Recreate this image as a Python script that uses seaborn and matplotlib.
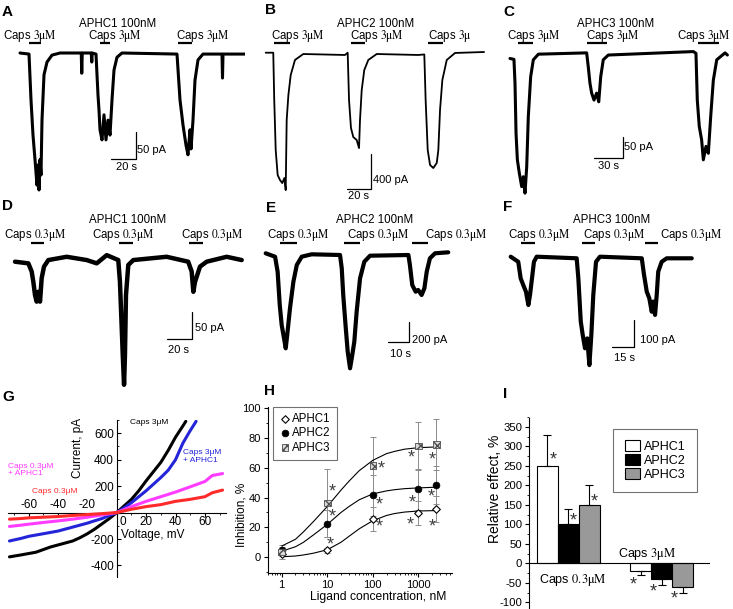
import matplotlib
matplotlib.use("Agg")
import matplotlib.pyplot as plt
import matplotlib.ticker as mticker
import seaborn as sns
import pandas as pd

# ---- current traces, time (s) / current (pA) ----
A_t = [0, 7.2, 8.8, 10.4, 12, 13.6, 14.4, 15.2, 16, 16.8, 17.6, 19.2, 21.6, 25.6, 32, 49, 49.4, 49.8,
       57, 57.4, 57.8, 60.8, 62.4, 63.2, 64, 65.6, 67.2, 68.8, 70.4, 72, 73.6, 75.2, 77.6, 81.6,
       125.6, 128, 130.4, 132.8, 134.4, 136, 136.8, 138.4, 140, 142.4, 146.4, 161.6, 162, 162.4, 180]
A_I = [0, -2, -88, -154, -200, -248, -210, -257, -200, -229, -126, -41, -17, -4, 0, 0, -38, 0,
       0, -17, 0, -2, -79, -107, -144, -163, -116, -163, -126, -154, -88, -32, -8, 0,
       -2, -88, -135, -173, -191, -144, -180, -126, -51, -13, -2, -2, -47, -2, -2]

B_t = [0, 6.2, 7.0, 8.2, 9.8, 11.7, 13.6, 15.3, 16.4, 17.2, 18.6, 20.5, 24, 30.8,
       65, 67.2, 68.3, 69.9, 71.8, 74.6, 76.5, 77.3, 78.7, 80.8, 84.1, 91,
       125, 130, 131.1, 132.8, 134.7, 137.4, 140.2, 141.5, 142.9, 144.8, 148.4, 155.2, 179]
B_I = [0, 0, -541, -1112, -1398, -1455, -1490, -1432, -1570, -769, -483, -255, -83, -15,
       -26, 0, -541, -861, -964, -998, -1090, -769, -426, -198, -83, -15,
       -26, -20, -541, -1112, -1283, -1318, -1260, -1112, -654, -312, -83, -3, 8]

C_t = [0, 4.2, 5.3, 6.4, 7.8, 9.9, 12.4, 14.1, 15.9, 17.7, 19.4, 21.9, 24.7, 30.1,
       81.2, 82.9, 84.7, 86.5, 89, 91.8, 94, 96.1, 98.8, 104.1,
       194.2, 197, 198.4, 200.5, 203, 204.8, 207.6, 210.1, 212.6, 215.4, 219, 227.8, 230.3]
C_I = [-12, -14, -69, -185, -246, -277, -308, -285, -323, -262, -146, -54, -15, -2,
       1, -31, -69, -92, -108, -92, -112, -54, -15, -4,
       4, 0, -108, -169, -200, -246, -215, -231, -146, -62, -15, 1, -4]

D_t = [0, 10.4, 13, 14.3, 15.6, 16.9, 18.2, 19.5, 20.8, 22.6, 26, 40.3, 55.9, 63.7, 71.5, 80.5,
       81.8, 83.2, 84, 85, 85.7, 86.5, 88.3, 92.2,
       118.2, 135, 137.7, 139, 140.3, 142.1, 144.2, 149.4, 165, 176.7]
D_I = [0, -3, -18, -37, -61, -73, -55, -73, -30, -9, 3, 9, 3, -3, 12, 3,
       -37, -122, -171, -225, -171, -61, -6, 3,
       9, 0, -18, -55, -37, -24, -9, 0, 9, 3]

E_t = [0, 4.4, 5.6, 6.6, 7.5, 8.6, 9.4, 10.1, 11.4, 13, 14.6, 16.9, 21.6,
       34.9, 35.7, 36.4, 37.6, 38.5, 39.6, 40.4, 41.6, 42.7, 44.3, 46.3, 49,
       67, 67.7, 68.8, 70.4, 71.6, 73.2, 74.5, 75.6, 77.1, 79.5, 85.7]
E_I = [17, -17, -167, -500, -700, -833, -933, -800, -533, -267, -100, -17, 7,
       0, -133, -400, -733, -967, -1133, -1033, -867, -567, -233, -67, -7,
       0, -100, -300, -367, -350, -400, -333, -167, -33, 17, 27]

F_t = [0, 5, 6.6, 8.3, 10.1, 11.7, 12.8, 14.1, 15.4, 17.2,
       43.7, 44.8, 46.4, 47.7, 49.2, 50.7, 52.1, 53.4, 54.7, 56.5, 59.1,
       86.8, 88.3, 90.1, 91.8, 93.4, 94.4, 95.6, 96.7, 97.7, 100, 103.3, 119.9]
F_I = [6, -13, -75, -100, -125, -175, -137, -75, -13, 6,
       0, -75, -237, -287, -337, -300, -400, -287, -137, -13, 6,
       0, -62, -125, -150, -200, -162, -212, -137, -50, -13, 0, 0]

# capsaicin application periods (s)
A_caps = [(7.2, 16.8), (64, 72), (126.4, 137.6)]
B_caps = [(6.8, 19.9), (69.9, 81.4), (133, 145.3)]
C_caps = [(8.2, 24.7), (81.2, 103), (198.7, 221.7)]
D_caps = [(12.2, 22.6), (81.3, 91.7), (135.9, 146.8)]
E_caps = [(6.7, 14.6), (36.9, 44.3), (68.5, 76.1)]
F_caps = [(6.6, 16.1), (47, 55.8), (88.9, 97.7)]

# ---- G: I-V curves (mV, pA) ----
G_v_black = [-73, -65, -60, -55, -50, -45, -40, -35, -30, -25, -20, -15, -10, -5, 0, 5, 10, 15, 20, 25, 30, 35, 40, 45, 47]
G_i_black = [-335, -320, -310, -300, -280, -260, -245, -230, -215, -190, -160, -125, -85, -45, 0, 50, 100, 165, 240, 310, 380, 470, 570, 655, 690]
G_v_blue = [-73, -65, -60, -55, -50, -45, -40, -35, -30, -25, -20, -15, -10, -5, 0, 5, 10, 15, 20, 25, 30, 35, 40, 45, 50, 54]
G_i_blue = [-215, -195, -180, -170, -160, -150, -140, -125, -110, -95, -80, -62, -45, -22, 0, 35, 75, 120, 165, 215, 265, 320, 400, 525, 620, 690]
G_v_mag = [-73, -65, -60, -50, -40, -30, -20, -10, 0, 10, 20, 30, 40, 50, 60, 65, 72]
G_i_mag = [-105, -95, -88, -75, -63, -50, -35, -18, 0, 45, 85, 120, 155, 195, 235, 280, 295]
G_v_red = [-73, -65, -60, -50, -40, -30, -20, -10, 0, 10, 20, 30, 40, 50, 60, 65, 72]
G_i_red = [-50, -45, -40, -35, -30, -22, -15, -8, 0, 25, 45, 60, 85, 100, 120, 150, 170]

# ---- H: dose response ----
H_conc = [1, 10, 100, 1000, 2500]
H_aphc1 = [2.3, 4.5, 25.4, 29.5, 32.3]
H_aphc1_err = [1.5, 1.5, 8, 8, 9]
H_aphc2 = [4.7, 22.5, 41.5, 45.5, 48.5]
H_aphc2_err = [2, 9, 14, 14, 13]
H_aphc3 = [3.5, 36.3, 61.5, 74.5, 75.5]
H_aphc3_err = [4.5, 23, 19.5, 16, 17]
H_fit_conc = [1, 2, 3, 5, 10, 20, 30, 50, 100, 200, 300, 500, 1000, 2500]
H_fit1 = [0.3, 0.8, 1.5, 2.7, 5, 10, 14, 19, 24.5, 28, 29.3, 30.3, 31, 31.3]
H_fit2 = [4, 7, 10, 15, 22, 30, 34, 38.5, 42.5, 44.5, 45.3, 46, 46.5, 47]
H_fit3 = [7.5, 12, 17, 24, 34, 45, 51, 58, 65, 69.5, 71, 72.5, 73.5, 74]
H_star1 = ([11.5, 140, 660, 1980], [10.8, 23.2, 24.7, 23.2])
H_star2 = ([13.2, 140, 720, 1910], [29.9, 37.7, 39.3, 43.4])
H_star3 = ([13.2, 150, 700, 1980], [46.7, 61.7, 69.2, 68])

# ---- I: relative effect ----
I_stim = ["Caps 0.3uM", "Caps 3uM"]
I_toxins = ["APHC1", "APHC2", "APHC3"]
I_aphc1 = [250, -20]
I_aphc2 = [100, -40]
I_aphc3 = [150, -60]
I_err = [[80, 10], [40, 15], [50, 15]]
I_star = [[275, -44], [119, -62], [168, -80]]

sns.set_style("ticks", {"axes.edgecolor": "k", "xtick.color": "k", "ytick.color": "k",
                        "text.color": "k", "axes.labelcolor": "k"})
plt.rcParams["font.family"] = ["Liberation Sans", "DejaVu Sans"]
plt.rcParams["mathtext.fontset"] = "stix"
plt.rcParams["axes.unicode_minus"] = False

W, H = 733, 609
fig = plt.figure(figsize=(W / 100, H / 100), dpi=100)


def box(left, top, width, height):
    return [left / W, 1 - (top + height) / H, width / W, height / H]


def ftext(x, y, s, **kw):
    kw.setdefault("ha", "center")
    kw.setdefault("va", "center")
    fig.text(x / W, 1 - y / H, s, **kw)


def caps(c):
    return r"Caps $\mathrm{" + c + r"\mu M}$"


def trace_panel(cell, x0, yb, pxs, pxa, t, cur, lw, bars, level, corner, slen):
    left, top, w, h = cell
    ax = fig.add_axes(box(*cell))
    sns.lineplot(x=t, y=cur, ax=ax, color="k", linewidth=lw, sort=False, estimator=None)
    for a, b in bars:
        ax.plot([a, b], [level, level], color="k", lw=1.6, solid_capstyle="butt")
    cx, cy = corner
    ax.plot([cx - slen[0], cx, cx], [cy, cy, cy + slen[1]], color="k", lw=0.9)
    ax.set_xlim((left - x0) / pxs, (left + w - x0) / pxs)
    ax.set_ylim(-(top + h - yb) / pxa, -(top - yb) / pxa)
    ax.axis("off")
    return ax


# ---- A-F traces ----
trace_panel((0, 0, 245, 195), 20, 53, 1.25, 0.533, A_t, A_I, 2.2, A_caps, 18.8, (92.8, -199), (20, 50))
trace_panel((245, 0, 245, 195), 265.7, 52.7, 1.22, 0.0875, B_t, B_I, 1.3, B_caps, 114, (86.3, -1558), (20, 400))
trace_panel((490, 0, 243, 195), 510, 53.3, 0.944, 0.433, C_t, C_I, 2.2, C_caps, 23, (119.4, -242.5), (30, 50))
trace_panel((0, 195, 245, 195), 15, 261.7, 1.283, 0.547, D_t, D_I, 3.2, D_caps, 33.6, (138.2, -141.3), (20, 50))
trace_panel((245, 195, 245, 195), 265.7, 255, 2.13, 0.1, E_t, E_I, 3.0, E_caps, 117, (67.3, -867), (10, 200))
trace_panel((490, 195, 243, 195), 510.7, 258.3, 1.51, 0.267, F_t, F_I, 3.0, F_caps, 56, (81.9, -331), (15, 100))

fs = 8.3
for xs, y, c in [([30, 114.5, 203.3], 36.5, "3"), ([297.5, 376.7], 36.5, "3"), ([534, 613, 704], 36.5, "3"),
                 ([35, 123, 211.7], 234.8, "0.3"), ([298.3, 378.3, 456], 234.8, "0.3"),
                 ([539.5, 613.8, 690.8], 234.8, "0.3")]:
    for x in xs:
        ftext(x, y, caps(c), fontsize=fs)
ftext(428.3, 36.5, r"Caps $\mathrm{3\mu}$", fontsize=fs, ha="left")
for x, y, s in [(117.5, 24, "APHC1 100nM"), (375.3, 24, "APHC2 100nM"), (615.5, 24, "APHC3 100nM"),
                (128, 220.5, "APHC1 100nM"), (375, 220.5, "APHC2 100nM"), (611.7, 219.5, "APHC3 100nM")]:
    ftext(x, y, s, fontsize=fs)
for x, y, s in [(137.3, 150, "50 pA"), (373.3, 180, "400 pA"), (624, 146.7, "50 pA"),
                (195, 328.3, "50 pA"), (411.7, 340, "200 pA"), (640, 340, "100 pA")]:
    ftext(x, y, s, fontsize=8, ha="left")
for x, y, s in [(126, 166.7, "20 s"), (358, 196, "20 s"), (608.7, 165.7, "30 s"),
                (178.3, 350, "20 s"), (400.8, 354.3, "10 s"), (624, 358.3, "15 s")]:
    ftext(x, y, s, fontsize=8)

for x, y, s in [(2, 12, "A"), (265, 10, "B"), (503, 12, "C"), (2, 206, "D"), (266, 208, "E"),
                (503, 207, "F"), (2, 397, "G"), (264, 391, "H"), (503, 394, "I")]:
    ftext(x, y, s, fontsize=11, fontweight="bold", ha="left")

# ---- G ----
ax_g = fig.add_axes(box(8, 420, 217.5, 156.7))
g_blue, g_mag, g_red = "#2424d8", "#ff3cff", "#ff2a2a"
for v, i, c in [(G_v_black, G_i_black, "k"), (G_v_blue, G_i_blue, g_blue),
                (G_v_mag, G_i_mag, g_mag), (G_v_red, G_i_red, g_red)]:
    sns.lineplot(x=v, y=i, ax=ax_g, color=c, linewidth=2.2, sort=False, estimator=None, zorder=3)
ax_g.set_xlim(-74, 74)
ax_g.set_ylim(-485, 700)
ax_g.spines["left"].set_position(("data", 0))
ax_g.spines["bottom"].set_position(("data", 0))
ax_g.spines[["top", "right"]].set_visible(False)
for sp in ax_g.spines.values():
    sp.set_linewidth(0.8)
gx = [-60, -40, -20, 0, 20, 40, 60]
ax_g.set_xticks(gx, labels=[""] * len(gx))
ax_g.xaxis.set_minor_locator(mticker.MultipleLocator(10))
ax_g.set_yticks([-400, -200, 0, 200, 400, 600], labels=["-400", "-200", "", "200", "400", "600"])
ax_g.yaxis.set_minor_locator(mticker.MultipleLocator(100))
ax_g.tick_params(axis="x", which="major", direction="out", length=3, width=0.8)
ax_g.tick_params(axis="x", which="minor", direction="out", length=1.5, width=0.6)
ax_g.tick_params(axis="y", which="major", direction="in", length=3, width=0.8, labelsize=8.5, pad=2)
ax_g.tick_params(axis="y", which="minor", direction="in", length=1.5, width=0.6)
for v in gx:
    if v < 0:
        ax_g.annotate(str(v), (v, 0), xytext=(0, 1.0), textcoords="offset points",
                      ha="center", va="bottom", fontsize=8.5)
    else:
        ax_g.annotate(str(v), (v, 0), xytext=(4.5 if v == 0 else 0, -2.2), textcoords="offset points",
                      ha="center", va="top", fontsize=8.5)
ftext(77.5, 448, "Current, pA", rotation=90, fontsize=8.5)
ftext(152.5, 535, "Voltage, mV", fontsize=8.5)
ftext(130, 423, "Caps 3μM", ha="left", fontsize=6)
ftext(183, 449, "Caps 3μM\n+ APHC1", ha="left", va="top", color=g_blue, fontsize=6, linespacing=1.3)
ftext(8, 462.5, "Caps 0.3μM\n+ APHC1", ha="left", va="top", color=g_mag, fontsize=6, linespacing=1.1)
ftext(32, 491.7, "Caps 0.3μM", ha="left", color=g_red, fontsize=6)

# ---- H ----
ax_h = fig.add_axes(box(268, 406.7, 183.7, 166))
ax_h.set_xscale("log")
series = [
    ("APHC1", H_aphc1, H_aphc1_err, H_fit1, H_star1,
     dict(marker="D", s=15, color="white", edgecolor="k", linewidth=0.8)),
    ("APHC2", H_aphc2, H_aphc2_err, H_fit2, H_star2,
     dict(marker="o", s=24, color="k", edgecolor="k", linewidth=0.5)),
    ("APHC3", H_aphc3, H_aphc3_err, H_fit3, H_star3,
     dict(marker="s", s=22, color="0.85", edgecolor="0.3", linewidth=0.6, hatch="xxxx")),
]
h_handles = []
for name, vals, err, fit, stars, mk in series:
    sns.lineplot(x=H_fit_conc, y=fit, ax=ax_h, color="k", linewidth=0.8, zorder=2)
    ax_h.errorbar(H_conc, vals, yerr=err, fmt="none", ecolor="0.55", elinewidth=0.7,
                  capsize=2, capthick=0.7, zorder=1)
    sns.scatterplot(x=H_conc, y=vals, ax=ax_h, zorder=4, **mk)
    h_handles.append(ax_h.collections[-1])
    for sx, sy in zip(*stars):
        ax_h.annotate("*", (sx, sy), xytext=(0, -3), textcoords="offset points",
                      ha="center", va="center", fontsize=13, color="0.25")
ax_h.set_xlim(0.5, 5400)
ax_h.set_ylim(-10.4, 101)
ax_h.set_xticks([1, 10, 100, 1000], labels=["1", "10", "100", "1000"])
ax_h.set_yticks([0, 20, 40, 60, 80, 100])
ax_h.yaxis.set_minor_locator(mticker.MultipleLocator(10))
ax_h.tick_params(which="major", length=3, width=0.8, labelsize=8, pad=2)
ax_h.tick_params(which="minor", length=1.6, width=0.6)
ax_h.spines[["top", "right"]].set_visible(False)
for sp in ax_h.spines.values():
    sp.set_linewidth(0.8)
ax_h.set_xlabel("")
ax_h.set_ylabel("")
leg_h = ax_h.legend(h_handles, ["APHC1", "APHC2", "APHC3"], loc="upper left",
                    bbox_to_anchor=(0.026, 1.0), borderaxespad=0, frameon=True, fancybox=False,
                    edgecolor="0.3", fontsize=8.3, handletextpad=0.1, labelspacing=0.2,
                    borderpad=0.55, handlelength=1.0)
leg_h.get_frame().set_linewidth(0.8)
ftext(241, 515, "Inhibition, %", rotation=90, fontsize=8.5)
ftext(378, 596.7, "Ligand concentration, nM", fontsize=8.7)

# ---- I ----
ax_i = fig.add_axes(box(529.3, 413.3, 180.7, 195.7))
df_i = pd.DataFrame({
    "stim": I_stim * 3,
    "toxin": [t for t in I_toxins for _ in I_stim],
    "effect": I_aphc1 + I_aphc2 + I_aphc3,
})
sns.barplot(data=df_i, x="stim", y="effect", hue="toxin", palette=["white", "black", "#999999"],
            edgecolor="k", linewidth=0.8, width=0.67, errorbar=None, ax=ax_i)
bar_groups = list(ax_i.containers)
for h_idx, cont in enumerate(bar_groups):
    for c_idx, bar in enumerate(cont):
        xc = bar.get_x() + bar.get_width() / 2
        val = bar.get_height()
        e = I_err[h_idx][c_idx]
        yerr = [[0], [e]] if val > 0 else [[e], [0]]
        ax_i.errorbar([xc], [val], yerr=yerr, fmt="none", ecolor="k", elinewidth=0.8,
                      capsize=3, capthick=0.8, zorder=3)
        ax_i.annotate("*", (xc, I_star[h_idx][c_idx]), xytext=(3.8 if c_idx == 0 else -5.8, -3),
                      textcoords="offset points", ha="center", va="center", fontsize=13, color="0.2")
ax_i.axhline(0, color="k", lw=0.8, zorder=4)
ax_i.set_xlim(-0.418, 1.517)
ax_i.set_ylim(-116.7, 385.1)
ax_i.set_xticks([])
ax_i.set_yticks(range(-100, 351, 50))
ax_i.yaxis.set_minor_locator(mticker.MultipleLocator(25))
ax_i.tick_params(which="major", length=3, width=0.8, labelsize=8.2, pad=2)
ax_i.tick_params(which="minor", length=1.6, width=0.6)
ax_i.spines[["top", "right", "bottom"]].set_visible(False)
ax_i.spines["left"].set_bounds(-116.7, 373)
ax_i.spines["left"].set_linewidth(0.8)
ax_i.set_xlabel("")
ax_i.set_ylabel("")
old = ax_i.get_legend()
i_handles = old.legend_handles
i_labels = [t.get_text() for t in old.get_texts()]
leg_i = ax_i.legend(i_handles, i_labels, loc="upper left", bbox_to_anchor=(0.465, 0.92),
                    borderaxespad=0, frameon=True, fancybox=False, edgecolor="0.3", fontsize=9,
                    handlelength=1.25, handleheight=0.9, handletextpad=0.3, labelspacing=0.12,
                    borderpad=0.9)
leg_i.get_frame().set_linewidth(0.8)
ftext(572.5, 580.5, caps("0.3"), fontsize=9)
ftext(646.7, 554, caps("3"), fontsize=9)
ftext(495, 489, "Relative effect, %", rotation=90, fontsize=10)

fig.savefig("out.png", dpi=100)
